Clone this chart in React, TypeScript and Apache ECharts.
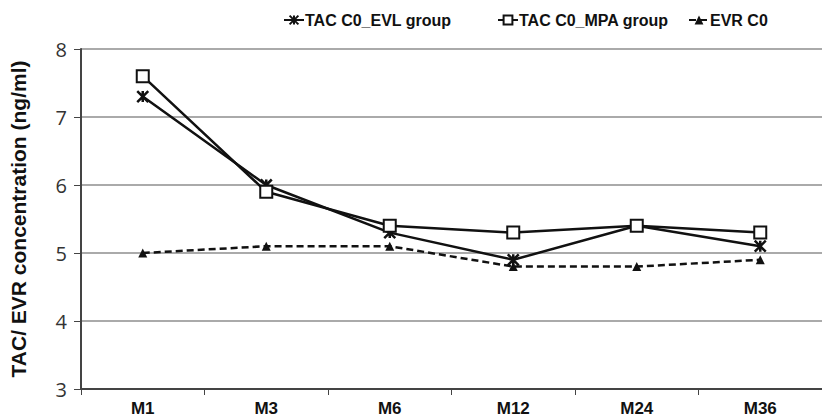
import React, { useEffect, useRef } from "react";
import * as echarts from "echarts";

const categories = ["M1", "M3", "M6", "M12", "M24", "M36"];
const evlValues = [7.3, 6.0, 5.3, 4.9, 5.4, 5.1];
const mpaValues = [7.6, 5.9, 5.4, 5.3, 5.4, 5.3];
const evrValues = [5.0, 5.1, 5.1, 4.8, 4.8, 4.9];
const seriesNames = ["TAC C0_EVL group", "TAC C0_MPA group", "EVR C0"];
const legendLefts = [278, 492, 683];

const asterisk = "path://M0,0L10,10M10,0L0,10M5,0L5,10";

export default function App() {
  const ref = useRef<HTMLDivElement>(null);
  useEffect(() => {
    if (!ref.current) return;
    const chart = echarts.init(ref.current, undefined, { renderer: "svg" });
    chart.setOption({
      animation: false,
      backgroundColor: "#fff",
      legend: seriesNames.map((n, i) => ({
        top: 7,
        left: legendLefts[i],
        itemWidth: 20,
        itemHeight: 11,
        itemGap: 0,
        textStyle: { fontFamily: "Liberation Sans", fontWeight: "bold", fontSize: 16, color: "#111", padding: [0, 0, 0, -4] },
        data: [n],
      })),
      grid: { left: 77, top: 49, bottom: 31, right: -11 },
      xAxis: {
        type: "category",
        data: categories,
        boundaryGap: true,
        axisLine: { lineStyle: { color: "#444", width: 2 } },
        axisTick: { show: true, length: 6, lineStyle: { color: "#444", width: 1 } },
        axisLabel: { fontFamily: "Liberation Sans", fontWeight: "bold", fontSize: 17, color: "#111", margin: 11 },
      },
      yAxis: {
        type: "value",
        min: 3,
        max: 8,
        interval: 1,
        name: "TAC/ EVR concentration (ng/ml)",
        nameLocation: "middle",
        nameRotate: 90,
        nameGap: 52,
        nameTextStyle: { fontFamily: "Liberation Sans", fontWeight: "bold", fontSize: 21, color: "#111" },
        axisLine: { show: true, lineStyle: { color: "#444", width: 2 } },
        axisTick: { show: true, length: 7, lineStyle: { color: "#444" } },
        axisLabel: { fontFamily: "Open Sans", fontSize: 20, color: "#333", margin: 14 },
        splitLine: { lineStyle: { color: "#aaa", width: 2 } },
      },
      series: [
        {
          name: seriesNames[0],
          type: "line",
          data: evlValues,
          symbol: asterisk,
          symbolSize: 11,
          lineStyle: { color: "#111", width: 2.5 },
          itemStyle: { color: "#111", borderColor: "#111", borderWidth: 2.5 },
          z: 3,
        },
        {
          name: seriesNames[1],
          type: "line",
          data: mpaValues,
          symbol: "rect",
          symbolSize: 12,
          lineStyle: { color: "#111", width: 2.5 },
          itemStyle: { color: "#fff", borderColor: "#111", borderWidth: 2 },
          z: 4,
        },
        {
          name: seriesNames[2],
          type: "line",
          data: evrValues,
          symbol: "triangle",
          symbolSize: 9,
          lineStyle: { color: "#111", width: 2.5, type: [7, 4] },
          itemStyle: { color: "#111" },
          z: 2,
        },
      ],
    });
    return () => chart.dispose();
  }, []);
  return <div ref={ref} style={{ width: 822, height: 420, position: "absolute", left: 0, top: 0 }} />;
}
